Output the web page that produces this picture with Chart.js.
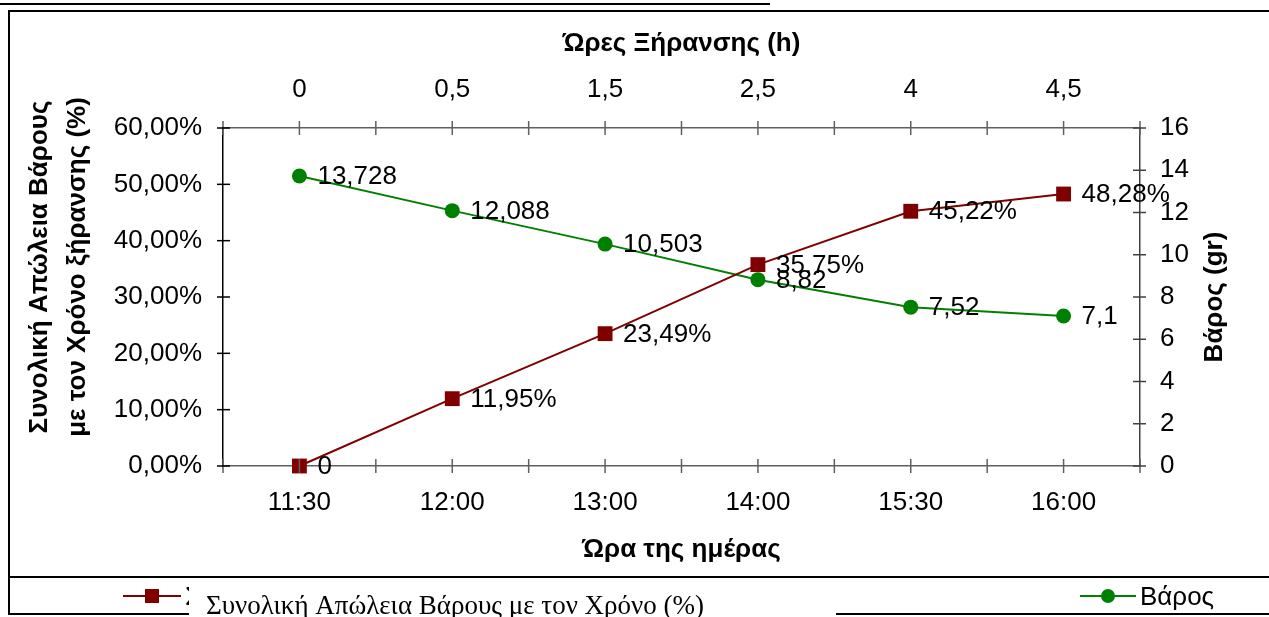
<!DOCTYPE html>
<html>
<head>
<meta charset="utf-8">
<title>Συνολική Απώλεια Βάρους</title>
<script src="https://cdn.jsdelivr.net/npm/chart.js@4.4.1/dist/chart.umd.min.js"></script>
<style>
    html, body { margin: 0; padding: 0; background: #fff; }
    #wrap { width: 1269px; height: 617px; position: relative; }
</style>
</head>
<body>
<div id="wrap"><canvas id="dryChart" width="1269" height="617"></canvas></div>
<script>
// ===== DATA =====
const timeLabels = ['11:30', '12:00', '13:00', '14:00', '15:30', '16:00'];
const hourLabels = ['0', '0,5', '1,5', '2,5', '4', '4,5'];
const lossPercent = [0, 11.95, 23.49, 35.75, 45.22, 48.28];
const weightGr = [13.728, 12.088, 10.503, 8.82, 7.52, 7.1];

const lossName = 'Συνολική Απώλεια Βάρους με τον Χρόνο ξήρανσης (%)';
const weightName = 'Βάρος';
const overlayText = 'Συνολική Απώλεια Βάρους με τον Χρόνο (%)';

const FONT = "'Liberation Sans', Arial, sans-serif";
const FS = 26;
const RED = '#800000';
const GREEN = '#008000';

function commaNum(v) {
    return String(v).replace('.', ',');
}

function lossLabel(v) {
    if (v === 0) return '0';
    return v.toFixed(2).replace('.', ',') + '%';
}

// value labels next to every point
const pointLabels = {
    id: 'pointLabels',
    afterDatasetsDraw(chart) {
        const ctx = chart.ctx;
        ctx.save();
        ctx.font = FS + 'px ' + FONT;
        ctx.fillStyle = '#000';
        ctx.textAlign = 'left';
        ctx.textBaseline = 'middle';
        chart.data.datasets.forEach((ds, i) => {
            const meta = chart.getDatasetMeta(i);
            meta.data.forEach((pt, j) => {
                const txt = i === 0 ? lossLabel(ds.data[j]) : commaNum(ds.data[j]);
                ctx.fillText(txt, pt.x + 18, pt.y + 1);
            });
        });
        ctx.restore();
    }
};

// crossing tick marks, side titles, frame and legend
const decorations = {
    id: 'decorations',
    afterDraw(chart) {
        const ctx = chart.ctx;
        const area = chart.chartArea;
        const sx = chart.scales.x;
        const sy = chart.scales.y;
        const sy1 = chart.scales.y1;
        ctx.save();

        // x ticks at category centres and boundaries
        ctx.lineWidth = 1.5;
        ctx.strokeStyle = '#606060';
        for (let i = 0; i < timeLabels.length * 2 + 1; i++) {
            const px = sx.getPixelForValue(i / 2 - 0.5);
            ctx.beginPath();
            ctx.moveTo(px, area.bottom - 7);
            ctx.lineTo(px, area.bottom + 7);
            ctx.moveTo(px, area.top - 7);
            ctx.lineTo(px, area.top + 7);
            ctx.stroke();
        }
        ctx.strokeStyle = '#000';
        sy.ticks.forEach(t => {
            const py = sy.getPixelForValue(t.value);
            ctx.beginPath();
            ctx.moveTo(area.left - 6, py);
            ctx.lineTo(area.left + 7, py);
            ctx.stroke();
        });
        ctx.strokeStyle = '#404040';
        sy1.ticks.forEach(t => {
            const py = sy1.getPixelForValue(t.value);
            ctx.beginPath();
            ctx.moveTo(area.right - 7, py);
            ctx.lineTo(area.right + 6, py);
            ctx.stroke();
        });

        // side titles (both read bottom to top)
        ctx.fillStyle = '#000';
        ctx.font = 'bold ' + FS + 'px ' + FONT;
        ctx.textAlign = 'center';
        ctx.textBaseline = 'middle';
        const midY = (area.top + area.bottom) / 2;
        ctx.save();
        ctx.translate(40, midY - 30);
        ctx.rotate(-Math.PI / 2);
        ctx.fillText('Συνολική Απώλεια Βάρους', 0, 0);
        ctx.fillText('με τον Χρόνο ξήρανσης (%)', 0, 38);
        ctx.restore();
        ctx.save();
        ctx.translate(1215, midY);
        ctx.rotate(-Math.PI / 2);
        ctx.fillText('Βάρος (gr)', 0, 0);
        ctx.restore();

        // frame
        ctx.strokeStyle = '#000';
        ctx.lineWidth = 2;
        ctx.beginPath();
        ctx.moveTo(0, 4); ctx.lineTo(770, 4);
        ctx.moveTo(8, 11); ctx.lineTo(1269, 11);
        ctx.moveTo(9, 11); ctx.lineTo(9, 614);
        ctx.moveTo(8, 577); ctx.lineTo(1269, 577);
        ctx.moveTo(8, 614); ctx.lineTo(1269, 614);
        ctx.stroke();

        // legend
        const ds0 = chart.data.datasets[0];
        const ds1 = chart.data.datasets[1];
        const ly = 596;
        ctx.lineWidth = 2;
        ctx.strokeStyle = ds0.borderColor;
        ctx.beginPath(); ctx.moveTo(123, ly); ctx.lineTo(181, ly); ctx.stroke();
        ctx.fillStyle = ds0.backgroundColor;
        ctx.fillRect(145, ly - 7, 14, 14);
        ctx.strokeStyle = ds1.borderColor;
        ctx.beginPath(); ctx.moveTo(1080, ly); ctx.lineTo(1136, ly); ctx.stroke();
        ctx.fillStyle = ds1.backgroundColor;
        ctx.beginPath(); ctx.arc(1108, ly, 7, 0, Math.PI * 2); ctx.fill();
        ctx.fillStyle = '#000';
        ctx.font = FS + 'px ' + FONT;
        ctx.textAlign = 'left';
        ctx.fillText(ds0.label, 185, ly + 2);
        ctx.fillText(ds1.label, 1140, ly + 2);

        // pasted text box covering the first legend entry
        ctx.fillStyle = '#fff';
        ctx.fillRect(189, 580, 647, 37);
        ctx.fillStyle = '#000';
        ctx.font = "27px 'Liberation Serif', 'Times New Roman', serif";
        ctx.textBaseline = 'alphabetic';
        ctx.fillText(overlayText, 206, 614);

        ctx.restore();
    }
};

function createDryChart() {
    const ctx = document.getElementById('dryChart');
    return new Chart(ctx, {
        type: 'line',
        data: {
            labels: timeLabels,
            datasets: [{
                label: lossName,
                data: lossPercent,
                yAxisID: 'y',
                xAxisID: 'x',
                borderColor: RED,
                backgroundColor: RED,
                borderWidth: 2,
                pointStyle: 'rect',
                pointRadius: 10.5,
                pointHoverRadius: 10.5,
                pointBorderWidth: 0,
                tension: 0,
                clip: false
            }, {
                label: weightName,
                data: weightGr,
                yAxisID: 'y1',
                xAxisID: 'x',
                borderColor: GREEN,
                backgroundColor: GREEN,
                borderWidth: 2,
                pointStyle: 'circle',
                pointRadius: 7.5,
                pointHoverRadius: 7.5,
                pointBorderWidth: 0,
                tension: 0,
                clip: false
            }]
        },
        options: {
            responsive: false,
            animation: false,
            layout: { padding: { left: 0, right: 0, top: 0, bottom: 40 } },
            plugins: {
                legend: { display: false },
                tooltip: { enabled: false }
            },
            scales: {
                x: {
                    type: 'category',
                    position: 'bottom',
                    offset: true,
                    afterFit: s => { s.height = 111; },
                    grid: { drawOnChartArea: false, drawTicks: false },
                    border: { color: '#606060', width: 1.5 },
                    ticks: { padding: 21, color: '#000', font: { family: FONT, size: FS }, maxRotation: 0 },
                    title: {
                        display: true,
                        text: 'Ώρα της ημέρας',
                        color: '#000',
                        font: { family: FONT, size: FS, weight: 'bold' },
                        padding: { top: 0, bottom: 12 }
                    }
                },
                x2: {
                    type: 'category',
                    position: 'top',
                    labels: hourLabels,
                    offset: true,
                    afterFit: s => { s.height = 128; },
                    grid: { drawOnChartArea: false, drawTicks: false },
                    border: { color: '#606060', width: 1.5 },
                    ticks: { padding: 23, color: '#000', font: { family: FONT, size: FS }, maxRotation: 0 },
                    title: {
                        display: true,
                        text: 'Ώρες Ξήρανσης (h)',
                        color: '#000',
                        font: { family: FONT, size: FS, weight: 'bold' },
                        padding: { top: 28, bottom: 0 }
                    }
                },
                y: {
                    position: 'left',
                    min: 0,
                    max: 60,
                    afterFit: s => { s.width = 223; },
                    grid: { drawOnChartArea: false, drawTicks: false },
                    border: { color: '#000', width: 1.5 },
                    ticks: {
                        stepSize: 10,
                        padding: 21,
                        color: '#000',
                        font: { family: FONT, size: FS },
                        callback: v => v.toFixed(2).replace('.', ',') + '%'
                    }
                },
                y1: {
                    position: 'right',
                    min: 0,
                    max: 16,
                    afterFit: s => { s.width = 129; },
                    grid: { drawOnChartArea: false, drawTicks: false },
                    border: { color: '#404040', width: 1.5 },
                    ticks: { stepSize: 2, padding: 20, color: '#000', font: { family: FONT, size: FS } }
                }
            }
        },
        plugins: [pointLabels, decorations]
    });
}

createDryChart();
</script>
</body>
</html>
